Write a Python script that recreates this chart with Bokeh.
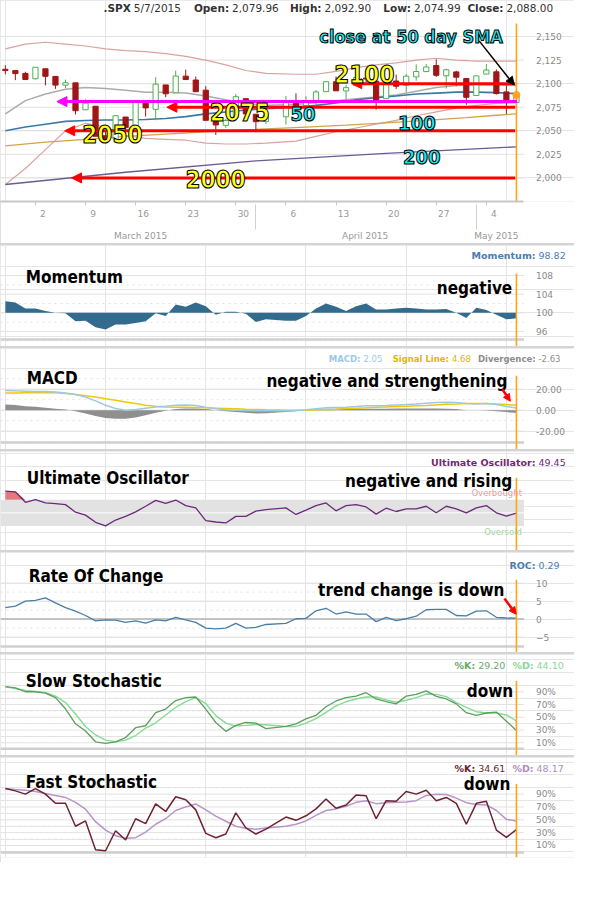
import numpy as np
from bokeh.plotting import figure
from bokeh.layouts import column
from bokeh.models import (Range1d, LinearAxis, FixedTicker, Label, Arrow, NormalHead,
                          NumeralTickFormatter, PrintfTickFormatter, ColumnDataSource,
                          BoxAnnotation)
from bokeh.embed import file_html
from bokeh.resources import INLINE

# ======================= DATA =======================
symbol = ".SPX"
as_of = "5/7/2015"

dates = [
    "2015-02-25", "2015-02-26", "2015-02-27",
    "2015-03-02", "2015-03-03", "2015-03-04", "2015-03-05", "2015-03-06",
    "2015-03-09", "2015-03-10", "2015-03-11", "2015-03-12", "2015-03-13",
    "2015-03-16", "2015-03-17", "2015-03-18", "2015-03-19", "2015-03-20",
    "2015-03-23", "2015-03-24", "2015-03-25", "2015-03-26", "2015-03-27",
    "2015-03-30", "2015-03-31", "2015-04-01", "2015-04-02",
    "2015-04-06", "2015-04-07", "2015-04-08", "2015-04-09", "2015-04-10",
    "2015-04-13", "2015-04-14", "2015-04-15", "2015-04-16", "2015-04-17",
    "2015-04-20", "2015-04-21", "2015-04-22", "2015-04-23", "2015-04-24",
    "2015-04-27", "2015-04-28", "2015-04-29", "2015-04-30",
    "2015-05-01", "2015-05-04", "2015-05-05", "2015-05-06", "2015-05-07",
]
open_ = [2115.3, 2113.9, 2110.9,
         2105.2, 2115.8, 2107.7, 2098.5, 2100.9,
         2072.3, 2076.1, 2044.7, 2041.1, 2064.6,
         2055.4, 2080.6, 2072.8, 2098.7, 2090.3,
         2108.0, 2103.9, 2093.1, 2059.9, 2055.8,
         2064.1, 2084.1, 2067.6, 2060.0,
         2064.9, 2080.8, 2076.9, 2081.3, 2091.5,
         2102.0, 2092.3, 2097.8, 2106.0, 2102.6,
         2084.1, 2102.8, 2098.3, 2107.2, 2112.8,
         2119.3, 2108.4, 2112.5, 2105.5,
         2087.4, 2110.2, 2112.6, 2091.3, 2079.96]
high = [2119.6, 2113.9, 2112.7,
        2117.5, 2115.8, 2107.7, 2104.3, 2100.9,
        2083.5, 2076.1, 2050.1, 2066.4, 2064.6,
        2081.4, 2080.6, 2106.9, 2098.7, 2113.9,
        2114.9, 2107.6, 2097.4, 2067.2, 2062.8,
        2089.0, 2084.1, 2067.6, 2072.2,
        2087.0, 2089.8, 2086.7, 2093.3, 2102.6,
        2107.7, 2098.6, 2111.9, 2111.3, 2102.6,
        2103.9, 2109.6, 2110.0, 2120.5, 2120.9,
        2125.9, 2116.0, 2113.7, 2105.5,
        2108.4, 2121.0, 2115.2, 2098.4, 2092.90]
low = [2109.9, 2103.8, 2103.8,
       2104.5, 2098.3, 2094.5, 2095.2, 2067.3,
       2072.2, 2044.2, 2039.7, 2041.1, 2041.2,
       2055.4, 2065.1, 2061.2, 2085.6, 2090.3,
       2104.4, 2091.5, 2061.1, 2045.5, 2053.0,
       2064.1, 2067.0, 2048.4, 2057.3,
       2056.5, 2076.1, 2073.3, 2074.3, 2091.5,
       2092.3, 2083.2, 2097.8, 2100.0, 2072.4,
       2084.1, 2094.4, 2091.1, 2103.2, 2112.8,
       2107.0, 2094.9, 2097.4, 2077.6,
       2087.4, 2110.2, 2088.5, 2067.9, 2074.99]
close = [2113.9, 2110.7, 2104.5,
         2117.4, 2107.8, 2098.5, 2101.0, 2071.3,
         2079.4, 2044.2, 2040.2, 2066.0, 2053.4,
         2081.2, 2074.3, 2099.5, 2089.3, 2108.1,
         2104.4, 2091.5, 2061.1, 2056.2, 2061.0,
         2086.2, 2067.9, 2059.7, 2067.0,
         2080.6, 2076.3, 2081.9, 2091.2, 2102.1,
         2092.4, 2095.8, 2106.6, 2105.0, 2081.2,
         2100.4, 2097.3, 2108.0, 2112.9, 2117.7,
         2108.9, 2114.8, 2106.9, 2085.5,
         2108.3, 2114.5, 2089.5, 2080.2, 2088.00]

# smooth overlays (read at selected dates)
line_dates = ["2015-02-25", "2015-02-27", "2015-03-03", "2015-03-05", "2015-03-09", "2015-03-11",
              "2015-03-13", "2015-03-17", "2015-03-19", "2015-03-23", "2015-03-25", "2015-03-27",
              "2015-03-31", "2015-04-02", "2015-04-07", "2015-04-09", "2015-04-13", "2015-04-15",
              "2015-04-17", "2015-04-21", "2015-04-23", "2015-04-27", "2015-04-29", "2015-05-01",
              "2015-05-05", "2015-05-07"]
bb_upper = [2137, 2142, 2144, 2142, 2140, 2137, 2135, 2134, 2132, 2129, 2125, 2120, 2114,
            2111, 2110, 2110, 2113, 2117, 2120, 2122, 2125, 2127, 2125, 2124, 2124, 2124]
bb_mid = [2068, 2082, 2089, 2094, 2096, 2095, 2093, 2091, 2091, 2090, 2087, 2083, 2079,
          2077, 2078, 2080, 2082, 2084, 2086, 2088, 2092, 2096, 2098, 2099, 2099, 2098]
bb_lower = [1993, 2010, 2030, 2050, 2058, 2054, 2045, 2042, 2041, 2040, 2037, 2036, 2036,
            2037, 2039, 2044, 2049, 2053, 2057, 2061, 2066, 2070, 2074, 2077, 2079, 2080]
sma50 = [2050, 2054, 2057, 2060, 2061, 2061.5, 2061.5, 2062, 2063, 2065, 2068, 2070, 2072,
         2073.5, 2075, 2077, 2079.5, 2083, 2085, 2087, 2089, 2090, 2091, 2091, 2090.5, 2089.5]
sma100_dates = ["2015-02-25", "2015-03-03", "2015-03-09", "2015-03-13", "2015-03-19", "2015-03-25",
                "2015-03-31", "2015-04-08", "2015-04-14", "2015-04-20", "2015-04-24", "2015-04-30",
                "2015-05-05", "2015-05-07"]
sma100 = [2034, 2038, 2041, 2044, 2046.5, 2049, 2051, 2054, 2056, 2058.5, 2061, 2064, 2066.5, 2068]
sma200_dates = ["2015-02-25", "2015-03-13", "2015-04-01", "2015-04-20", "2015-05-07"]
sma200 = [1993, 2006, 2018, 2026, 2033]

# annotations on the price panel
support_levels = [2100, 2075, 2050, 2000]
support_labels = ["2100", "2075", "2050", "2000"]
pivot_level = 2081
sma_labels = ["50", "100", "200"]
sma_note = "close at 50 day SMA"

# indicators (one value per trading day)
momentum = [102.5, 102.2, 100.9, 100.9, 100.4, 100.0, 99.9, 98.2, 98.3, 96.9, 96.4, 97.5, 97.5,
            97.8, 98.2, 99.9, 99.3, 101.8, 101.3, 102.2, 101.4, 99.6, 100.2, 100.2, 99.8, 98.0,
            98.6, 98.3, 98.3, 99.3, 100.9, 102.0, 101.3, 100.4, 101.4, 102.0, 100.7, 100.7,
            100.9, 101.1, 100.9, 100.7, 100.7, 100.8, 100.0, 98.9, 101.1, 100.6, 99.6, 98.6, 98.82]
macd = [18.8, 18.4, 18.1, 17.8, 17.8, 17.2, 16.3, 15.0, 12.5, 8.8, 4.7, 1.6, 0.0, 0.6, 1.9, 3.1,
        3.8, 4.7, 5.0, 4.4, 2.8, 1.3, 0.3, 0.0, -0.3, -0.6, -0.6, -0.6, -0.3, 0.3, 1.3, 2.2, 2.5,
        2.8, 3.4, 4.1, 4.1, 4.4, 5.0, 5.3, 5.9, 6.6, 7.2, 7.5, 7.2, 6.3, 5.9, 6.3, 5.3, 3.4, 2.05]
signal = [16.3, 16.3, 16.6, 16.6, 16.6, 16.6, 15.9, 15.0, 13.8, 12.5, 10.9, 9.4, 7.8, 6.3, 4.7,
          3.8, 3.1, 2.8, 2.8, 2.5, 2.2, 1.9, 1.6, 1.3, 0.9, 0.6, 0.3, 0.0, 0.0, 0.0, 0.3, 0.6,
          0.9, 1.6, 1.9, 2.2, 2.8, 3.1, 3.4, 3.8, 4.1, 4.4, 5.0, 5.6, 5.9, 6.3, 6.3, 6.3, 5.9, 5.3, 4.68]
divergence = [5.4, 4.8, 3.8, 3.2, 2.2, 1.3, 0.6, -1.0, -3.2, -5.7, -7.6, -8.3, -8.3, -7.0, -4.8,
              -2.5, -0.6, 1.0, 1.6, 1.6, 1.0, 0.0, -1.0, -1.9, -2.5, -3.2, -2.9, -1.9, -1.0, 0.0,
              0.6, 1.3, 1.3, 1.3, 1.3, 1.3, 1.3, 1.3, 1.6, 1.6, 1.6, 1.6, 1.6, 1.3, 1.0, 0.0, 0.0,
              -0.3, -1.0, -1.9, -2.63]
uo = [83, 82, 66, 70, 65, 64, 62.5, 51, 46.5, 35.5, 30, 39, 44.5, 51.5, 60, 69, 64.5, 69.5, 61,
      57.5, 38, 36, 34.5, 44.5, 44.5, 52.5, 55, 57.5, 47.5, 54, 61, 65, 53, 61, 62.5, 59, 48, 57,
      52, 56, 56, 60, 50, 60, 56, 50, 57.5, 61, 50, 45, 49.45]
uo_overbought, uo_oversold = 70, 30
roc = [3.2, 3.6, 5.0, 5.2, 5.9, 4.5, 3.2, 2.2, 1.0, -0.5, -0.2, -0.3, -0.9, -0.5, -1.1, -0.2,
       -0.5, 0.5, -0.2, -0.9, -2.5, -2.7, -2.5, -1.2, -2.5, -2.3, -1.5, -1.2, 0.1, 0.2, 2.3, 3.0,
       1.4, 2.0, 1.4, 1.4, -0.7, 0.5, -0.4, 0.1, 0.8, 2.6, 2.7, 2.7, 1.0, 0.9, 2.2, 2.3, 0.5, 0.3, 0.29]
slow_k = [98.2, 96.2, 90, 90, 88, 80.8, 63.3, 39.7, 28.5, 11.5, 9, 11.5, 18.2, 33.6, 36.7, 57.2,
          62.8, 76.2, 80.8, 81.8, 62.8, 41.8, 27.9, 37.2, 41.8, 40.8, 32.1, 35.6, 39.7, 47.4,
          53.1, 66.4, 75.6, 80.8, 83.3, 88.5, 78.7, 74.6, 71, 83.3, 85.9, 91.5, 82.8, 78.7, 71,
          57.2, 53.1, 56.7, 58.2, 43.8, 29.2]
slow_d = [97.7, 95.1, 92, 90.5, 89, 83.3, 73.1, 55.1, 35.6, 22.3, 14.1, 11.5, 14.1, 21.3, 33.1,
          41.3, 53.6, 65.4, 74.6, 80.8, 71.5, 52.6, 40.8, 36.2, 37.2, 38.7, 38.2, 35.6, 35.6,
          40.8, 47.9, 57.7, 68, 74.6, 78.7, 81.8, 81.8, 77.2, 73.6, 76.7, 80.8, 86.4, 85.9, 82.3,
          73.1, 65.4, 58.7, 56.7, 56.7, 53.6, 44.1]
fast_k = [98.7, 95.1, 90, 98.7, 90, 75.7, 75.7, 40, 48.2, 3.3, 1.7, 32.9, 18.6, 51.7, 44, 74.7,
          63, 85.9, 81.3, 65.5, 28.8, 22.1, 27.8, 60.9, 37.4, 27.8, 35.4, 54.3, 49.2, 56.3, 67,
          82.3, 68.1, 73.2, 88.5, 87.4, 51.7, 79.8, 78.8, 94.1, 90, 96.1, 79.8, 84.9, 75.7, 43.1,
          75.7, 78.8, 33.9, 22.7, 34.61]
fast_d = [98.7, 97.1, 96.1, 94.1, 91, 88, 84.9, 77.2, 66.5, 47.1, 33.9, 25.2, 21.1, 22.1, 30.8,
          43.1, 51.7, 64.5, 70.1, 74.7, 65.5, 55.8, 47.7, 40, 36.9, 35.4, 37.4, 40, 43.1, 48.2,
          56.8, 64.5, 67, 71.1, 77.2, 79.8, 75.2, 76.7, 77.2, 77.8, 79.8, 88, 90, 89.5, 83.9,
          76.7, 73.7, 73.2, 64.5, 50.7, 48.17]

# axis ticks
week_dates = ["2015-03-02", "2015-03-09", "2015-03-16", "2015-03-23", "2015-03-30",
              "2015-04-06", "2015-04-13", "2015-04-20", "2015-04-27", "2015-05-04"]
week_labels = ["2", "9", "16", "23", "30", "6", "13", "20", "27", "4"]
month_names = ["March 2015", "April 2015", "May 2015"]
month_keys = ["2015-03", "2015-04", "2015-05"]
month_breaks = ["2015-04-01", "2015-05-01"]
price_ticks = [2000, 2025, 2050, 2075, 2100, 2125, 2150]
mom_ticks = [96, 100, 104, 108]
mom_minor = [94, 98, 102, 106]
macd_ticks = [-20, 0, 20]
macd_minor = [-30, -10, 10, 30]
roc_ticks = [-5, 0, 5, 10]
roc_minor = [-7.5, -2.5, 2.5, 7.5]
stoch_ticks = [10, 30, 50, 70, 90]
stoch_minor = [0, 20, 40, 60, 80, 100]

# ======================= HELPERS =======================
START = np.datetime64(dates[0])
def slots(ds):
    return np.busday_count(START, np.array(ds, dtype="datetime64[D]")).astype(float)

slot = slots(dates)
o, h, l, c = map(np.array, (open_, high, low, close))

W = 574
SY = 0.982
STEP = 10.3          # reference px per trading-day slot
X0 = 5.0             # reference px of the first slot
PLOT_R = 538         # reference px of the plot area's right edge
def rx(px):
    return (px - X0) / STEP
XR = Range1d(rx(0), rx(590))
XL, XRE = rx(0), rx(PLOT_R)

REF_BOUNDS = [0, 248, 353, 458, 561, 665, 770, 878]
cb = [int(round(SY * b)) for b in REF_BOUNDS]

SANS = "DejaVu Sans"
NARROW = "'Liberation Sans Narrow', 'DejaVu Sans Condensed', 'Roboto Condensed', 'Liberation Sans', sans-serif"
GRID = "#e2e2e2"
ORANGE = "#ffa31a"
RED = "#ff0000"
TICKC = "#8a8a8a"


class Panel:
    def __init__(self, i, plot_top, fbot, t_hi, t_lo):
        (v_hi, y_hi), (v_lo, y_lo) = t_hi, t_lo
        top = cb[i] + (1 if i > 0 else 0)
        bot = cb[i + 1] - (1 if i < 6 else 0)
        ftop = top / SY
        k = (v_hi - v_lo) / (y_lo - y_hi)
        self.y0 = v_lo - (fbot - y_lo) * k
        self.y1 = v_hi + (y_hi - ftop) * k
        self.ftop, self.fbot, self.plot_top = ftop, fbot, plot_top
        self.fig = figure(width=W, height=bot - top, x_range=XR,
                          y_range=Range1d(self.y0, self.y1),
                          output_backend="svg", toolbar_location=None,
                          x_axis_location=None, y_axis_location=None,
                          min_border_left=0, min_border_right=0, min_border_top=0,
                          min_border_bottom=bot - int(round(SY * fbot)),
                          outline_line_color=None, background_fill_color="white",
                          border_fill_color="white")

    def y(self, py):
        return self.y0 + (self.fbot - py) * (self.y1 - self.y0) / (self.fbot - self.ftop)

    def text(self, s, px, py, size, color="#000000", bold=False, align="left", font=SANS,
             outline=None):
        kw = dict(x=rx(px), y=self.y(py), text=s, text_font=font, text_font_size=f"{size}px",
                  text_font_style="bold" if bold else "normal", text_color=color,
                  text_align=align, text_baseline="middle")
        lab = None
        if outline:
            try:
                lab = Label(text_outline_color=outline, **kw)
            except AttributeError:
                lab = None
        if lab is None:
            lab = Label(**kw)
        self.fig.add_layout(lab)

    def grid(self, ticks, minor=None):
        self.fig.segment(x0=XL, x1=XRE, y0=ticks, y1=ticks, line_color=GRID, line_width=1)
        if minor:
            self.fig.segment(x0=XL, x1=XRE, y0=minor, y1=minor, line_color=GRID,
                             line_width=1, line_dash="dotted")

    def right_axis(self, ticks, formatter=None):
        ax = LinearAxis(ticker=FixedTicker(ticks=ticks), fixed_location=XRE,
                        axis_line_color=None,
                        major_tick_line_color=None, minor_tick_line_color=None,
                        major_label_standoff=6, major_label_text_font=SANS,
                        major_label_text_font_size="9px", major_label_text_color=TICKC)
        if formatter is not None:
            ax.formatter = formatter
        self.fig.add_layout(ax, "right")

    def base_line(self, py):
        yy = self.y(py)
        self.fig.segment(x0=XL, x1=XRE, y0=yy, y1=yy, line_color="#cfcfcf", line_width=2.5)

    def now_line(self, bottom_ref):
        self.fig.segment(x0=slot[-1], x1=slot[-1], y0=self.y(self.plot_top),
                         y1=self.y(bottom_ref), line_color=ORANGE, line_width=1.6)

    def header(self, pairs, py, size=9.5):
        # each pair: key (bold, right-aligned before value_x), value (left-aligned at value_x)
        for key, val, vx, color in pairs:
            self.text(key, vx - 3, py, size, color, True, "right")
            self.text(val, vx, py, size, color, False, "left")


P = [
    Panel(0, 25, 219, (2150, 39.3), (2000, 193.3)),
    Panel(1, 278, 352, (108, 280.0), (96, 336.7)),
    Panel(2, 382, 457, (20, 395.7), (-20, 438.3)),
    Panel(3, 486, 560, (70, 508.3), (30, 535.0)),
    Panel(4, 590, 664, (10, 593.3), (-5, 648.3)),
    Panel(5, 693, 769, (90, 704.0), (10, 756.0)),
    Panel(6, 798, 873, (90, 808.3), (10, 860.7)),
]

# ======================= PRICE PANEL =======================
pp = P[0]
p = pp.fig
pp.grid(price_ticks)
pp.right_axis(price_ticks, NumeralTickFormatter(format="0,0"))

ls = slots(line_dates)
p.line(ls, bb_upper, line_color="#d9a3a0", line_width=1.2)
p.line(ls, bb_lower, line_color="#d9a3a0", line_width=1.2)
p.line(ls, bb_mid, line_color="#ababab", line_width=1.5)
p.line(slots(sma200_dates), sma200, line_color="#6b5b95", line_width=1.3)
p.line(slots(sma100_dates), sma100, line_color="#d4a24c", line_width=1.3)
p.line(ls, sma50, line_color="#3a78a8", line_width=1.6)

GREEN = "#4cb04c"
DRED = "#a01616"
up = c >= o
dn = ~up
src_up = ColumnDataSource(dict(x=slot[up], top=c[up], bottom=o[up], hi=h[up], lo=l[up]))
src_dn = ColumnDataSource(dict(x=slot[dn], top=o[dn], bottom=c[dn], hi=h[dn], lo=l[dn]))
p.segment(x0="x", y0="lo", x1="x", y1="hi", source=src_up, line_color=GREEN, line_width=1)
p.segment(x0="x", y0="lo", x1="x", y1="hi", source=src_dn, line_color=DRED, line_width=1)
p.vbar(x="x", top="top", bottom="bottom", width=0.52, source=src_up, fill_color="white",
       line_color=GREEN, line_width=1)
p.vbar(x="x", top="top", bottom="bottom", width=0.52, source=src_dn, fill_color=DRED,
       line_color=DRED, line_width=1)

# support lines with arrows
arrow_from = {2100: 361, 2075: 171, 2050: 66, 2000: 73}
for lev in support_levels:
    p.add_layout(Arrow(end=NormalHead(size=10, fill_color=RED, line_color=RED),
                       x_start=rx(529), y_start=lev, x_end=rx(arrow_from[lev]), y_end=lev,
                       line_color=RED, line_width=3))
p.add_layout(Arrow(end=NormalHead(size=10, fill_color="#ff00ff", line_color="#ff00ff"),
                   x_start=rx(531), y_start=pivot_level, x_end=rx(58), y_end=pivot_level,
                   line_color="#ff00ff", line_width=3))
p.add_layout(Arrow(end=NormalHead(size=8, fill_color="black", line_color="black"),
                   x_start=rx(492), y_start=pp.y(44), x_end=rx(528), y_end=pp.y(92),
                   line_color="black", line_width=1.5))
pp.now_line(219)
p.scatter(x=[slot[-1]], y=[c[-1]], size=7, color=ORANGE)

YEL = "#ffff1a"
CY = "#1ee8f0"
lab_pos = {"2100": (374, 80), "2075": (246, 122), "2050": (115, 145), "2000": (221, 195)}
for s in support_labels:
    px, py = lab_pos[s]
    pp.text(s, px, py, 24, YEL, True, "center", NARROW, "black")
sma_pos = {"50": (311, 124), "100": (428, 134), "200": (433, 171)}
for s in sma_labels:
    px, py = sma_pos[s]
    pp.text(s, px, py, 20, CY, True, "center", NARROW, "black")
pp.text(sma_note, 422, 39, 18, CY, True, "center", NARROW, "black")

# header
DARK = "#333333"
pp.header([(symbol, as_of, 137, DARK),
           ("Open:", f"{open_[-1]:,.2f}", 238, DARK),
           ("High:", f"{high[-1]:,.2f}", 333, DARK),
           ("Low:", f"{low[-1]:,.2f}", 425, DARK),
           ("Close:", f"{close[-1]:,.2f}", 520, DARK)], 8, 10.5)

# date axes
wk = slots(week_dates)
day_ticks = [float(s) + 0.75 for s in wk]
day_axis = LinearAxis(ticker=FixedTicker(ticks=day_ticks, minor_ticks=[float(s) for s in wk]),
                      major_label_overrides={t: lab for t, lab in zip(day_ticks, week_labels)},
                      bounds=(XL, XRE),
                      major_tick_out=0, major_tick_in=0, minor_tick_out=4, minor_tick_in=0,
                      minor_tick_line_color="#c8c8c8", axis_line_color="#c8c8c8",
                      axis_line_width=2, major_label_standoff=4, major_label_text_font=SANS,
                      major_label_text_font_size="9px", major_label_text_color="#999999")
p.add_layout(day_axis, "below")
mcent = []
for key in month_keys:
    mcent.append(float(np.mean([s for s, d in zip(slot, dates) if d.startswith(key)])))
month_axis = LinearAxis(ticker=FixedTicker(ticks=mcent, minor_ticks=[float(s) for s in slots(month_breaks)]),
                        major_label_overrides={t: lab for t, lab in zip(mcent, month_names)},
                        axis_line_color=None, major_tick_out=0, major_tick_in=0,
                        minor_tick_in=15, minor_tick_out=10, minor_tick_line_color="#d0d0d0",
                        major_label_standoff=1, major_label_text_font=SANS,
                        major_label_text_font_size="9px", major_label_text_color="#999999")
p.add_layout(month_axis, "below")
# continuation of the latest-bar marker through the date rows
now_axis = LinearAxis(ticker=FixedTicker(ticks=[], minor_ticks=[float(slot[-1])]),
                      fixed_location=pp.y0, axis_line_color=None,
                      major_tick_line_color=None, minor_tick_in=0, minor_tick_out=28,
                      minor_tick_line_color=ORANGE, minor_tick_line_width=1.6,
                      major_label_text_font_size="0px")
p.add_layout(now_axis, "below")

# ======================= MOMENTUM =======================
pm = P[1]
f = pm.fig
pm.grid(mom_ticks, mom_minor)
pm.right_axis(mom_ticks)
pm.base_line(345)
f.varea(x=slot, y1=100, y2=momentum, fill_color="#336b8e")
pm.now_line(352)
pm.header([("Momentum:", f"{momentum[-1]:.2f}", 553, "#4a7eb0")], 260)
pm.text("Momentum", 26, 281, 17, "#000000", True, "left", NARROW)
pm.text("negative", 526, 293, 17, "#000000", True, "right", NARROW)

# ======================= MACD =======================
pq = P[2]
f = pq.fig
pq.grid(macd_ticks, macd_minor)
pq.right_axis(macd_ticks, NumeralTickFormatter(format="0.00"))
pq.base_line(450)
f.varea(x=slot, y1=0, y2=divergence, fill_color="#8f8f8f")
f.line(slot, signal, line_color="#f0c808", line_width=1.5)
f.line(slot, macd, line_color="#9ecae1", line_width=1.5)
pq.now_line(457)
pq.header([("MACD:", f"{macd[-1]:.2f}", 373, "#9dc8e4"),
           ("Signal Line:", f"{signal[-1]:.2f}", 464, "#e0b800"),
           ("Divergence:", f"{divergence[-1]:.2f}", 553, "#8c8c8c")], 365, 8.5)
pq.text("MACD", 27, 384, 17, "#000000", True, "left", NARROW)
pq.text("negative and strengthening", 521, 387, 17, "#000000", True, "right", NARROW)
f.add_layout(Arrow(end=NormalHead(size=7, fill_color=RED, line_color=RED),
                   x_start=rx(516), y_start=pq.y(396), x_end=rx(524), y_end=pq.y(408),
                   line_color=RED, line_width=2.5))

# ======================= ULTIMATE OSCILLATOR =======================
pu = P[3]
f = pu.fig
f.add_layout(BoxAnnotation(bottom=uo_oversold, top=uo_overbought, right=XRE,
                           fill_color="#e2e2e2", fill_alpha=1, line_color=None,
                           level="underlay"))
mid = (uo_overbought + uo_oversold) / 2
f.segment(x0=XL, x1=XRE, y0=mid, y1=mid, line_color="#f4f4f4", line_width=1.5)
uo_a = np.array(uo, dtype=float)
f.varea(x=slot[:3], y1=uo_overbought, y2=np.maximum(uo_a[:3], uo_overbought),
        fill_color="#e06a6a", fill_alpha=0.9)
f.line(slot, uo, line_color="#6b2a7a", line_width=1.3)
pu.now_line(560)
pu.header([("Ultimate Oscillator:", f"{uo[-1]:.2f}", 553, "#6e2a6e")], 470)
pu.text("Ultimate Oscillator", 27, 486, 17, "#000000", True, "left", NARROW)
pu.text("negative and rising", 526, 489, 17, "#000000", True, "right", NARROW)
pu.text("Overbought", 536, 502, 8.5, "#e8a0a0", False, "right")
pu.text("Oversold", 536, 541, 8.5, "#a0d8a0", False, "right")

# ======================= RATE OF CHANGE =======================
pr = P[4]
f = pr.fig
pr.grid(roc_ticks, roc_minor)
pr.right_axis(roc_ticks)
pr.base_line(658)
f.segment(x0=XL, x1=XRE, y0=0, y1=0, line_color="#b5b5b5", line_width=1.5)
f.line(slot, roc, line_color="#4a7ea8", line_width=1.3)
pr.now_line(664)
pr.header([("ROC:", f"{roc[-1]:.2f}", 553, "#4a7eb0")], 575)
pr.text("Rate Of Change", 29, 586, 17, "#000000", True, "left", NARROW)
pr.text("trend change is down", 518, 600, 17, "#000000", True, "right", NARROW)
f.add_layout(Arrow(end=NormalHead(size=7, fill_color=RED, line_color=RED),
                   x_start=rx(518), y_start=pr.y(609), x_end=rx(530), y_end=pr.y(625),
                   line_color=RED, line_width=2.5))

# ======================= SLOW STOCHASTIC =======================
ps = P[5]
f = ps.fig
ps.grid(stoch_ticks, stoch_minor)
ps.right_axis(stoch_ticks, PrintfTickFormatter(format="%d%%"))
ps.base_line(762)
f.line(slot, slow_d, line_color="#84dc94", line_width=1.4)
f.line(slot, slow_k, line_color="#5e9e5e", line_width=1.3)
ps.now_line(769)
ps.header([("%K:", f"{slow_k[-1]:.2f}", 491, "#6aaa6a"),
           ("%D:", f"{slow_d[-1]:.2f}", 551, "#88d898")], 677)
ps.text("Slow Stochastic", 26, 693, 17, "#000000", True, "left", NARROW)
ps.text("down", 527, 703, 17, "#000000", True, "right", NARROW)

# ======================= FAST STOCHASTIC =======================
pf = P[6]
f = pf.fig
pf.grid(stoch_ticks, stoch_minor)
pf.right_axis(stoch_ticks, PrintfTickFormatter(format="%d%%"))
pf.base_line(868)
f.line(slot, fast_d, line_color="#b895c8", line_width=1.5)
f.line(slot, fast_k, line_color="#6e2233", line_width=1.5)
pf.now_line(873)
pf.header([("%K:", f"{fast_k[-1]:.2f}", 491, "#6b1f2f"),
           ("%D:", f"{fast_d[-1]:.2f}", 551, "#b08cc0")], 782)
pf.text("Fast Stochastic", 26, 796, 17, "#000000", True, "left", NARROW)
pf.text("down", 524, 798, 17, "#000000", True, "right", NARROW)

layout = column(*[q.fig for q in P], spacing=2, styles={"background-color": "#d4d4d4"})
open("out.html", "w").write(file_html(layout, INLINE, title="SPX 5/7/2015"))
